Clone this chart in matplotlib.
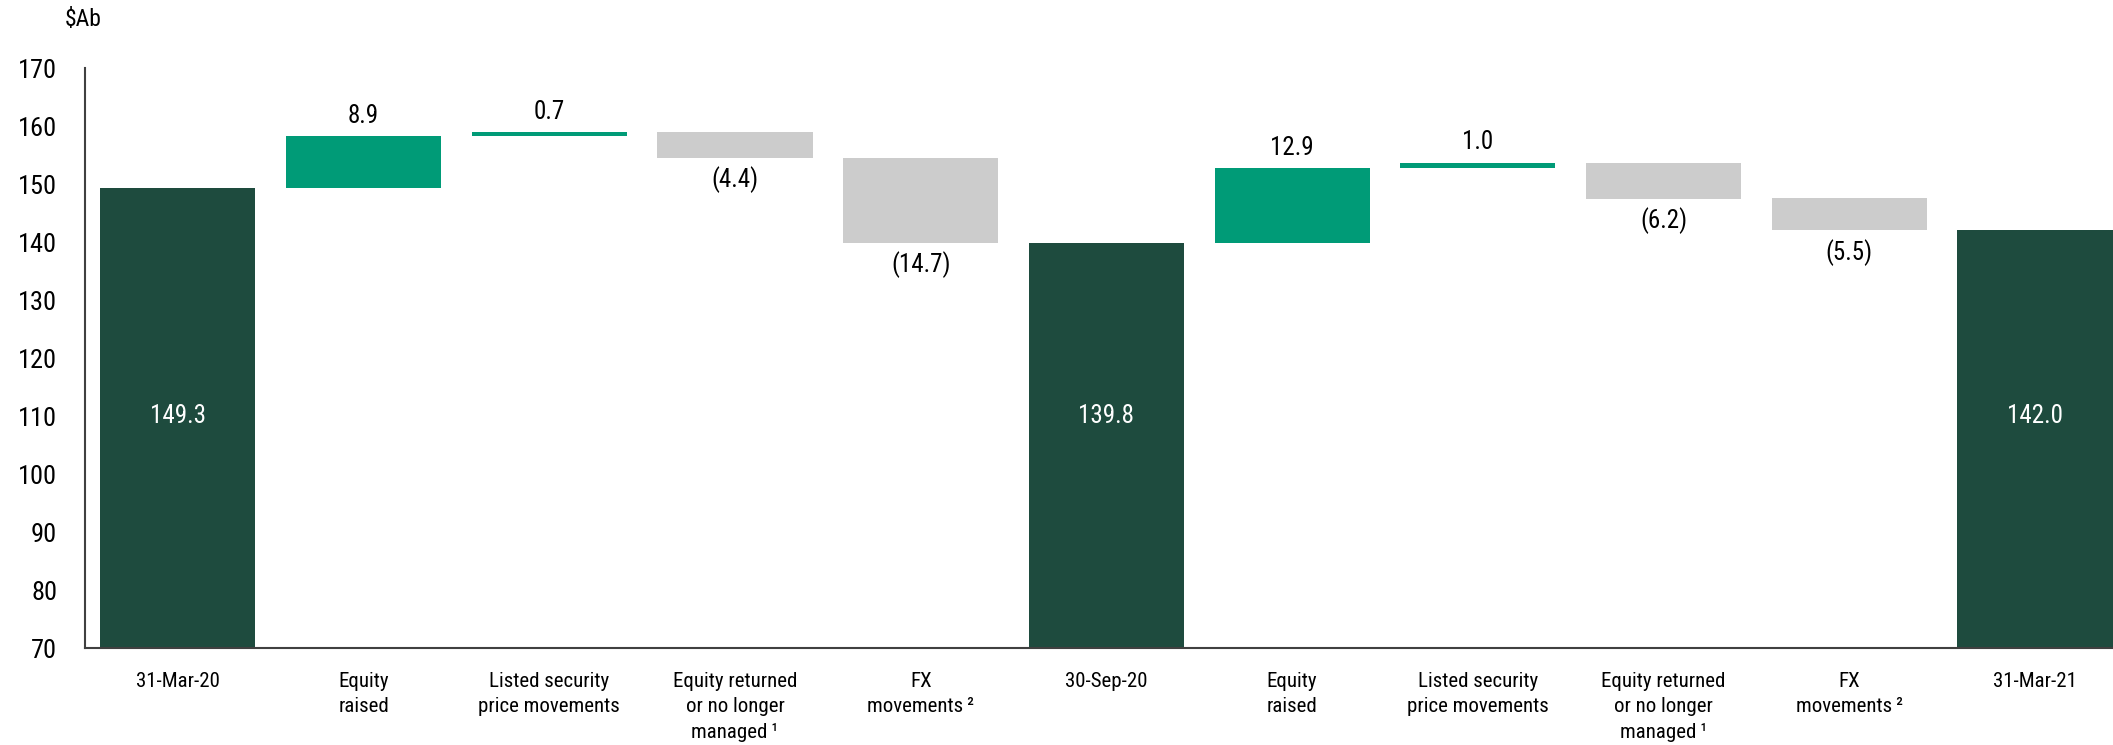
import numpy as np
import matplotlib
matplotlib.use('Agg')
import matplotlib.pyplot as plt

plt.rcParams['font.family'] = ['Roboto Condensed', 'DejaVu Sans']

# Funds under management bridge, $Ab
categories = ['31-Mar-20', 'Equity\nraised', 'Listed security\nprice movements',
              'Equity returned\nor no longer\nmanaged\u2009\u00b9', 'FX\nmovements\u2009\u00b2',
              '30-Sep-20', 'Equity\nraised', 'Listed security\nprice movements',
              'Equity returned\nor no longer\nmanaged\u2009\u00b9', 'FX\nmovements\u2009\u00b2',
              '31-Mar-21']
values = [149.3, 8.9, 0.7, -4.4, -14.7, 139.8, 12.9, 1.0, -6.2, -5.5, 142.0]
is_total = [True, False, False, False, False, True, False, False, False, False, True]

dark_green = '#1e4b3e'
bright_green = '#009b77'
grey = '#cccccc'
axis_color = '#404040'

fig = plt.figure(figsize=(21.13, 7.45), dpi=100)
ax = fig.add_axes([85 / 2113, 1 - 648 / 745, 1 - 85 / 2113, (648 - 68) / 745])

x = np.arange(len(values))
bottoms, heights, colors = [], [], []
level = 0.0
for v, tot in zip(values, is_total):
    if tot:
        bottoms.append(70)
        heights.append(v - 70)
        colors.append(dark_green)
        level = v
    else:
        bottoms.append(min(level, level + v))
        heights.append(abs(v))
        colors.append(bright_green if v > 0 else grey)
        level += v

ax.bar(x, heights, bottom=bottoms, width=0.835, color=colors, zorder=2)

for xi, v, tot, b, h in zip(x, values, is_total, bottoms, heights):
    if tot:
        ax.text(xi, 110, f'{v:.1f}', ha='center', va='center', color='white', fontsize=18)
    elif v > 0:
        ax.annotate(f'{v:.1f}', (xi, b + h), xytext=(0, 6), textcoords='offset points',
                    ha='center', va='bottom', fontsize=18)
    else:
        ax.annotate(f'({abs(v):.1f})', (xi, b), xytext=(0, -6), textcoords='offset points',
                    ha='center', va='top', fontsize=18)

ax.set_ylim(70, 170)
ax.set_yticks(np.arange(70, 171, 10))
ax.set_xlim(-0.5, 10.42)
ax.set_xticks(x)
ax.set_xticklabels(categories, fontsize=15, linespacing=1.45, va='top')
ax.tick_params(axis='x', length=0, pad=17)
ax.tick_params(axis='y', length=0, pad=20, labelsize=19)

for side in ['top', 'right']:
    ax.spines[side].set_visible(False)
for side in ['left', 'bottom']:
    ax.spines[side].set_color(axis_color)
    ax.spines[side].set_linewidth(1.5)

fig.text(65 / 2113, 1 - 20 / 745, '$Ab', fontsize=17, ha='left', va='center')

fig.savefig('out.png', dpi=100)
